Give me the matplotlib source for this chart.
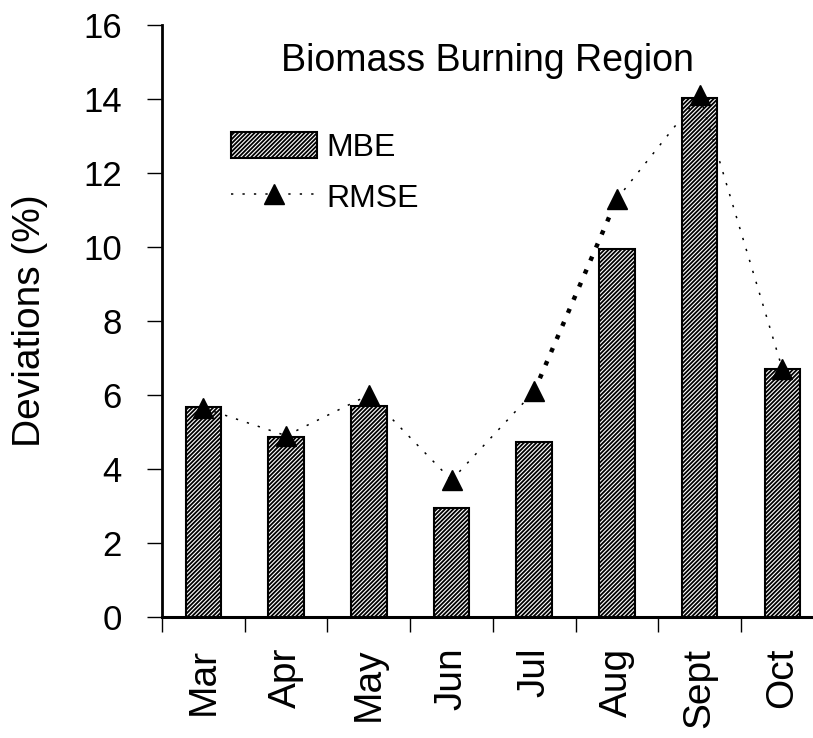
import matplotlib
matplotlib.use("Agg")
import matplotlib.pyplot as plt
from matplotlib.patches import Patch
from matplotlib.lines import Line2D
import numpy as np

plt.rcParams['font.family'] = ['Liberation Sans', 'DejaVu Sans']
plt.rcParams['hatch.linewidth'] = 1.3

months = ["Mar", "Apr", "May", "Jun", "Jul", "Aug", "Sept", "Oct"]
mbe = [5.68, 4.86, 5.71, 2.95, 4.73, 9.95, 14.03, 6.7]
rmse = [5.65, 4.9, 6.0, 3.7, 6.1, 11.3, 14.1, 6.7]
yticks = [0, 2, 4, 6, 8, 10, 12, 14, 16]
title = "Biomass Burning Region"

fig = plt.figure(figsize=(8.13, 7.38), dpi=100)
ax = fig.add_axes([162/813, 121/738, 651/813, 592/738])

x = np.arange(len(months))
HATCH = '////////'
ax.bar(x, mbe, width=0.43, facecolor='white', edgecolor='black',
       hatch=HATCH, linewidth=1.5, zorder=2)

# RMSE line: thin dotted, with Jul-Aug segment bold
for i in range(len(x) - 1):
    bold = (months[i] == "Jul")
    ax.plot(x[i:i+2], rmse[i:i+2], color='black',
            linewidth=3.2 if bold else 1.1,
            linestyle=(0, (1.0, 2.2)) if bold else (0, (1.5, 6)),
            zorder=3)
ax.plot(x, rmse, linestyle='none', marker='^', markersize=15,
        color='black', zorder=4)

ax.set_xlim(-0.5, 7.37)
ax.set_ylim(0, 16)
ax.set_yticks(yticks)
ax.set_yticklabels([str(v) for v in yticks], fontsize=25)
ax.set_xticks(np.arange(-0.5, 7.0, 1.0))
ax.set_xticklabels([])
ax.set_xticks(x, minor=True)
ax.set_xticklabels(months, minor=True, rotation=90, fontsize=28)
ax.tick_params(axis='x', which='major', direction='out', length=11, width=1.0)
ax.tick_params(axis='x', which='minor', length=0, pad=22)
ax.tick_params(axis='y', direction='out', length=11, width=1.0, pad=18)

for s in ['top', 'right']:
    ax.spines[s].set_visible(False)
ax.spines['left'].set_linewidth(2.0)
ax.spines['bottom'].set_linewidth(2.2)

ax.set_ylabel("Deviations (%)", fontsize=28, labelpad=25)

ax.text(0.50, 0.94, title, transform=ax.transAxes, ha='center', va='center',
        fontsize=27)

handles = [Patch(facecolor='white', edgecolor='black', hatch=HATCH, linewidth=1.5),
           Line2D([0], [0], color='black', linestyle=(0, (1.5, 6)), linewidth=1.1,
                  marker='^', markersize=15)]
leg = ax.legend(handles, ["MBE", "RMSE"], loc='upper left',
                bbox_to_anchor=(0.086, 0.841), frameon=False, fontsize=23,
                handlelength=2.7, handleheight=0.9, handletextpad=0.3,
                labelspacing=0.6, borderaxespad=0)

fig.savefig("out.png", dpi=100)
